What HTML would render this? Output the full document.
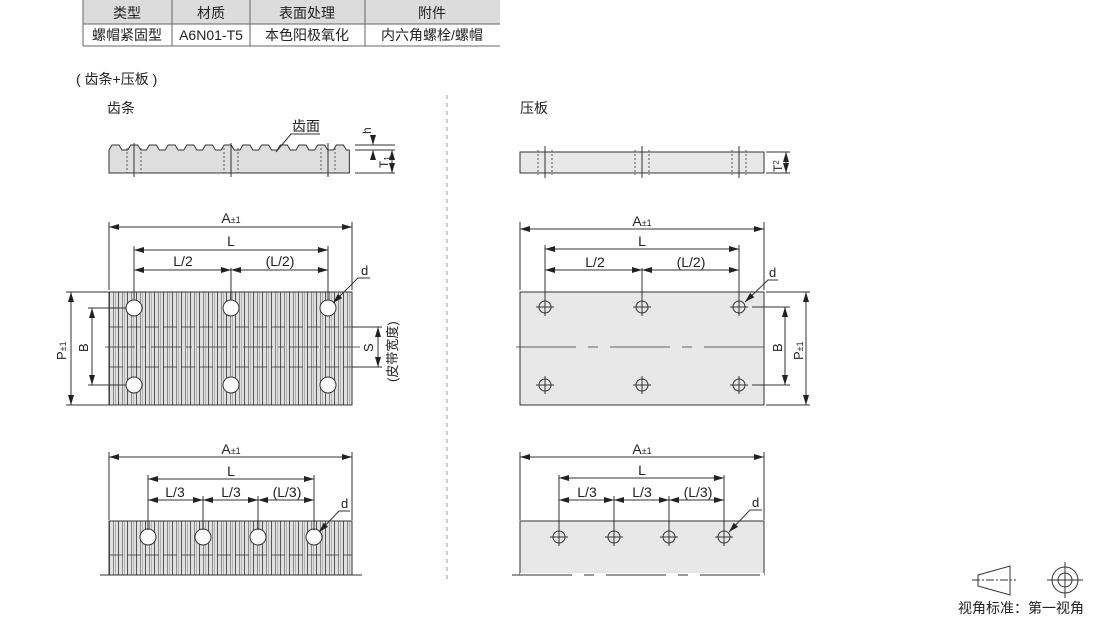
<!DOCTYPE html>
<html><head><meta charset="utf-8"><style>
body{margin:0;background:#fff;width:1110px;height:620px;overflow:hidden;font-family:"Liberation Sans","Noto Sans CJK SC",sans-serif}
svg text{font-family:"Liberation Sans","Noto Sans CJK SC",sans-serif;fill:#222}
</style></head><body>
<svg width="1110" height="620" viewBox="0 0 1110 620" xmlns="http://www.w3.org/2000/svg">
<defs>
<marker id="a" viewBox="0 0 10 6" refX="10" refY="3" markerWidth="10" markerHeight="6" orient="auto-start-reverse" markerUnits="userSpaceOnUse"><path d="M0,0L10,3L0,6z" fill="#222"/></marker>
<pattern id="st" width="9" height="10" patternUnits="userSpaceOnUse" x="109"><rect width="9" height="10" fill="#e0e0e0"/><rect x="0" width="1" height="10" fill="#555"/><rect x="4" width="0.7" height="10" fill="#666"/><rect x="6.5" width="0.5" height="10" fill="#888"/></pattern>
</defs>
<!-- table -->
<rect x="83" y="0" width="417" height="24" fill="#dcdcdc"/>
<g stroke="#666" stroke-width="1" fill="none">
<line x1="83" y1="24" x2="500" y2="24"/><line x1="83" y1="46" x2="500" y2="46"/>
<line x1="83" y1="0" x2="83" y2="46"/><line x1="172" y1="0" x2="172" y2="46"/><line x1="250" y1="0" x2="250" y2="46"/><line x1="365" y1="0" x2="365" y2="46"/>
</g>
<g font-size="14" text-anchor="middle">
<text x="127" y="18">类型</text><text x="211" y="18">材质</text><text x="307" y="18">表面处理</text><text x="432" y="18">附件</text>
<text x="127" y="40">螺帽紧固型</text><text x="211" y="40">A6N01-T5</text><text x="307" y="40">本色阳极氧化</text><text x="432" y="40">内六角螺栓/螺帽</text>
</g>
<text x="76" y="84" font-size="14">( 齿条+压板 )</text>
<text x="107" y="113" font-size="14">齿条</text>
<text x="520" y="113" font-size="14">压板</text>
<line x1="447" y1="95" x2="447" y2="582" stroke="#999" stroke-dasharray="4,4"/>

<!-- rack side -->
<path d="M109,173V150 l3,-5h7l3,5h5.7 l3,-5h7l3,5h5.7 l3,-5h7l3,5h5.7 l3,-5h7l3,5h5.7 l3,-5h7l3,5h5.7 l3,-5h7l3,5h5.7 l3,-5h7l3,5h5.7 l3,-5h7l3,5h5.7 l3,-5h7l3,5h5.7 l3,-5h7l3,5h5.7 l3,-5h7l3,5h5.7 l3,-5h7l3,5h5.7 l3,-5h7l3,5h3V173Z" fill="#dedede" stroke="#333"/>
<g stroke="#555" stroke-dasharray="2,2"><line x1="127" y1="148" x2="127" y2="173"/><line x1="141" y1="148" x2="141" y2="173"/><line x1="224" y1="148" x2="224" y2="173"/><line x1="238" y1="148" x2="238" y2="173"/><line x1="321" y1="148" x2="321" y2="173"/><line x1="335" y1="148" x2="335" y2="173"/></g>
<g stroke="#333"><line x1="134" y1="143" x2="134" y2="177"/><line x1="231" y1="143" x2="231" y2="177"/><line x1="328" y1="143" x2="328" y2="177"/></g>
<g stroke="#333" fill="none">
<line x1="355" y1="145" x2="395" y2="145"/><line x1="355" y1="150" x2="395" y2="150"/><line x1="355" y1="173" x2="395" y2="173"/>
<line x1="373" y1="135" x2="373" y2="145" marker-end="url(#a)"/><line x1="373" y1="160" x2="373" y2="150" marker-end="url(#a)"/>
<line x1="392" y1="150" x2="392" y2="173" marker-start="url(#a)" marker-end="url(#a)"/>
<polyline points="276,152 291,134 320,134"/>
</g>
<text x="292" y="131" font-size="14">齿面</text>
<text x="371" y="134" font-size="12" transform="rotate(-90 371 134)">h</text>
<text x="388" y="168" font-size="12" transform="rotate(-90 388 168)">T<tspan font-size="8" dy="2">1</tspan></text>

<!-- rack top -->
<rect x="109" y="292" width="243" height="113" fill="url(#st)" stroke="#333"/>
<g stroke="#333" stroke-width="0.8"><line x1="109" y1="327" x2="352" y2="327" stroke-dasharray="14,4"/><line x1="109" y1="367" x2="352" y2="367" stroke-dasharray="14,4"/><line x1="105" y1="347" x2="360" y2="347" stroke-dasharray="30,5,6,5"/></g>
<g fill="#fff" stroke="#333"><circle cx="134" cy="308" r="8"/><circle cx="231" cy="308" r="8"/><circle cx="328" cy="308" r="8"/><circle cx="134" cy="385" r="8"/><circle cx="231" cy="385" r="8"/><circle cx="328" cy="385" r="8"/></g>
<g stroke="#333" fill="none">
<line x1="109" y1="222" x2="109" y2="290"/><line x1="352" y1="222" x2="352" y2="290"/>
<line x1="109" y1="227" x2="352" y2="227" marker-start="url(#a)" marker-end="url(#a)"/>
<line x1="134" y1="246" x2="134" y2="300"/><line x1="328" y1="246" x2="328" y2="300"/><line x1="231" y1="268" x2="231" y2="300"/>
<line x1="134" y1="250" x2="328" y2="250" marker-start="url(#a)" marker-end="url(#a)"/>
<line x1="134" y1="270" x2="231" y2="270" marker-start="url(#a)" marker-end="url(#a)"/>
<line x1="231" y1="270" x2="328" y2="270" marker-start="url(#a)" marker-end="url(#a)"/>
<polyline points="333,303 358,278 370,278" marker-start="url(#a)"/>
<line x1="66" y1="292" x2="109" y2="292"/><line x1="66" y1="405" x2="109" y2="405"/>
<line x1="71" y1="292" x2="71" y2="405" marker-start="url(#a)" marker-end="url(#a)"/>
<line x1="88" y1="308" x2="126" y2="308"/><line x1="88" y1="385" x2="126" y2="385"/>
<line x1="92" y1="308" x2="92" y2="385" marker-start="url(#a)" marker-end="url(#a)"/>
<line x1="352" y1="327" x2="382" y2="327"/><line x1="352" y1="367" x2="382" y2="367"/>
<line x1="378" y1="327" x2="378" y2="367" marker-start="url(#a)" marker-end="url(#a)"/>
</g>
<g font-size="14" text-anchor="middle">
<text x="231" y="223">A<tspan font-size="9">±1</tspan></text><text x="231" y="246">L</text><text x="183" y="266">L/2</text><text x="280" y="266">(L/2)</text>
</g>
<text x="361" y="275" font-size="13">d</text>
<text x="66" y="360" font-size="13" transform="rotate(-90 66 360)">P<tspan font-size="9">±1</tspan></text>
<text x="88" y="352" font-size="13" transform="rotate(-90 88 352)">B</text>
<text x="373" y="352" font-size="13" transform="rotate(-90 373 352)">S</text>
<text x="397" y="382" font-size="13" transform="rotate(-90 397 382)">(皮带宽度)</text>

<!-- rack bottom -->
<rect x="109" y="521" width="243" height="54" fill="url(#st)" stroke="#333"/>
<line x1="109" y1="555" x2="352" y2="555" stroke="#333" stroke-width="0.8" stroke-dasharray="14,4"/>
<line x1="100" y1="575" x2="362" y2="575" stroke="#333"/>
<g fill="#fff" stroke="#333"><circle cx="148" cy="537" r="8"/><circle cx="203" cy="537" r="8"/><circle cx="258" cy="537" r="8"/><circle cx="314" cy="537" r="8"/></g>
<g stroke="#333" fill="none">
<line x1="109" y1="452" x2="109" y2="520"/><line x1="352" y1="452" x2="352" y2="520"/>
<line x1="109" y1="457" x2="352" y2="457" marker-start="url(#a)" marker-end="url(#a)"/>
<line x1="148" y1="475" x2="148" y2="530"/><line x1="314" y1="475" x2="314" y2="530"/><line x1="203" y1="496" x2="203" y2="530"/><line x1="258" y1="496" x2="258" y2="530"/>
<line x1="148" y1="479" x2="314" y2="479" marker-start="url(#a)" marker-end="url(#a)"/>
<line x1="148" y1="500" x2="203" y2="500" marker-start="url(#a)" marker-end="url(#a)"/>
<line x1="203" y1="500" x2="258" y2="500" marker-start="url(#a)" marker-end="url(#a)"/>
<line x1="258" y1="500" x2="314" y2="500" marker-start="url(#a)" marker-end="url(#a)"/>
<polyline points="319,532 339,511 350,511" marker-start="url(#a)"/>
</g>
<g font-size="14" text-anchor="middle">
<text x="231" y="454">A<tspan font-size="9">±1</tspan></text><text x="231" y="476">L</text><text x="175" y="497">L/3</text><text x="231" y="497">L/3</text><text x="287" y="497">(L/3)</text>
</g>
<text x="341" y="508" font-size="13">d</text>

<!-- plate side -->
<rect x="520" y="152" width="244" height="21" fill="#e8e8e8" stroke="#333"/>
<g stroke="#555" stroke-dasharray="2,2"><line x1="538" y1="150" x2="538" y2="175"/><line x1="552" y1="150" x2="552" y2="175"/><line x1="635" y1="150" x2="635" y2="175"/><line x1="649" y1="150" x2="649" y2="175"/><line x1="732" y1="150" x2="732" y2="175"/><line x1="746" y1="150" x2="746" y2="175"/></g>
<g stroke="#333"><line x1="545" y1="146" x2="545" y2="178"/><line x1="642" y1="146" x2="642" y2="178"/><line x1="739" y1="146" x2="739" y2="178"/>
<line x1="766" y1="152" x2="790" y2="152"/><line x1="766" y1="173" x2="790" y2="173"/>
<line x1="786" y1="152" x2="786" y2="173" marker-start="url(#a)" marker-end="url(#a)"/></g>
<text x="782" y="172" font-size="12" transform="rotate(-90 782 172)">T<tspan font-size="8" dy="-3">2</tspan></text>

<!-- plate top -->
<rect x="520" y="292" width="244" height="113" fill="#e8e8e8" stroke="#333"/>
<line x1="516" y1="347" x2="770" y2="347" stroke="#333" stroke-width="0.8" stroke-dasharray="60,12,10,12"/>
<g stroke="#333" fill="none">
<circle cx="545" cy="307" r="6"/><circle cx="642" cy="307" r="6"/><circle cx="739" cy="307" r="6"/><circle cx="545" cy="385" r="6"/><circle cx="642" cy="385" r="6"/><circle cx="739" cy="385" r="6"/>
<path d="M536,307h18M545,298v18M633,307h18M642,298v18M730,307h18M739,298v18M536,385h18M545,376v18M633,385h18M642,376v18M730,385h18M739,376v18"/>
<line x1="520" y1="222" x2="520" y2="290"/><line x1="764" y1="222" x2="764" y2="290"/>
<line x1="520" y1="229" x2="764" y2="229" marker-start="url(#a)" marker-end="url(#a)"/>
<line x1="545" y1="245" x2="545" y2="300"/><line x1="739" y1="245" x2="739" y2="300"/><line x1="642" y1="268" x2="642" y2="300"/>
<line x1="545" y1="249" x2="739" y2="249" marker-start="url(#a)" marker-end="url(#a)"/>
<line x1="545" y1="270" x2="642" y2="270" marker-start="url(#a)" marker-end="url(#a)"/>
<line x1="642" y1="270" x2="739" y2="270" marker-start="url(#a)" marker-end="url(#a)"/>
<polyline points="745,302 768,280 778,280" marker-start="url(#a)"/>
<line x1="766" y1="292" x2="810" y2="292"/><line x1="766" y1="405" x2="810" y2="405"/>
<line x1="806" y1="292" x2="806" y2="405" marker-start="url(#a)" marker-end="url(#a)"/>
<line x1="752" y1="307" x2="790" y2="307"/><line x1="752" y1="385" x2="790" y2="385"/>
<line x1="785" y1="307" x2="785" y2="385" marker-start="url(#a)" marker-end="url(#a)"/>
</g>
<g font-size="14" text-anchor="middle">
<text x="642" y="226">A<tspan font-size="9">±1</tspan></text><text x="642" y="246">L</text><text x="595" y="267">L/2</text><text x="691" y="267">(L/2)</text>
</g>
<text x="769" y="277" font-size="13">d</text>
<text x="782" y="352" font-size="13" transform="rotate(-90 782 352)">B</text>
<text x="803" y="360" font-size="13" transform="rotate(-90 803 360)">P<tspan font-size="9">±1</tspan></text>

<!-- plate bottom -->
<rect x="520" y="521" width="244" height="54" fill="#e8e8e8" stroke="#333"/>
<rect x="520" y="573" width="244" height="4" fill="#fff"/>
<line x1="512" y1="575" x2="772" y2="575" stroke="#333" stroke-dasharray="60,12,10,12"/>
<g stroke="#333" fill="none">
<circle cx="559" cy="537" r="6"/><circle cx="614" cy="537" r="6"/><circle cx="669" cy="537" r="6"/><circle cx="724" cy="537" r="6"/>
<path d="M550,537h18M559,528v18M605,537h18M614,528v18M660,537h18M669,528v18M715,537h18M724,528v18"/>
<line x1="520" y1="452" x2="520" y2="520"/><line x1="764" y1="452" x2="764" y2="520"/>
<line x1="520" y1="457" x2="764" y2="457" marker-start="url(#a)" marker-end="url(#a)"/>
<line x1="559" y1="475" x2="559" y2="530"/><line x1="724" y1="475" x2="724" y2="530"/><line x1="614" y1="496" x2="614" y2="530"/><line x1="669" y1="496" x2="669" y2="530"/>
<line x1="559" y1="478" x2="724" y2="478" marker-start="url(#a)" marker-end="url(#a)"/>
<line x1="559" y1="500" x2="614" y2="500" marker-start="url(#a)" marker-end="url(#a)"/>
<line x1="614" y1="500" x2="669" y2="500" marker-start="url(#a)" marker-end="url(#a)"/>
<line x1="669" y1="500" x2="724" y2="500" marker-start="url(#a)" marker-end="url(#a)"/>
<polyline points="729,532 750,510 762,510" marker-start="url(#a)"/>
</g>
<g font-size="14" text-anchor="middle">
<text x="642" y="454">A<tspan font-size="9">±1</tspan></text><text x="642" y="475">L</text><text x="587" y="497">L/3</text><text x="642" y="497">L/3</text><text x="698" y="497">(L/3)</text>
</g>
<text x="752" y="507" font-size="13">d</text>

<!-- projection symbol -->
<g stroke="#333" fill="none">
<path d="M978,575 L1010,566 V595 L978,586Z"/>
<line x1="972" y1="580" x2="1016" y2="580" stroke-dasharray="8,2,2,2"/>
<circle cx="1065" cy="580" r="13"/><circle cx="1065" cy="580" r="7"/>
<line x1="1047" y1="580" x2="1083" y2="580"/><line x1="1065" y1="562" x2="1065" y2="598"/>
</g>
<text x="958" y="613" font-size="14">视角标准：第一视角</text>
</svg>
</body></html>
